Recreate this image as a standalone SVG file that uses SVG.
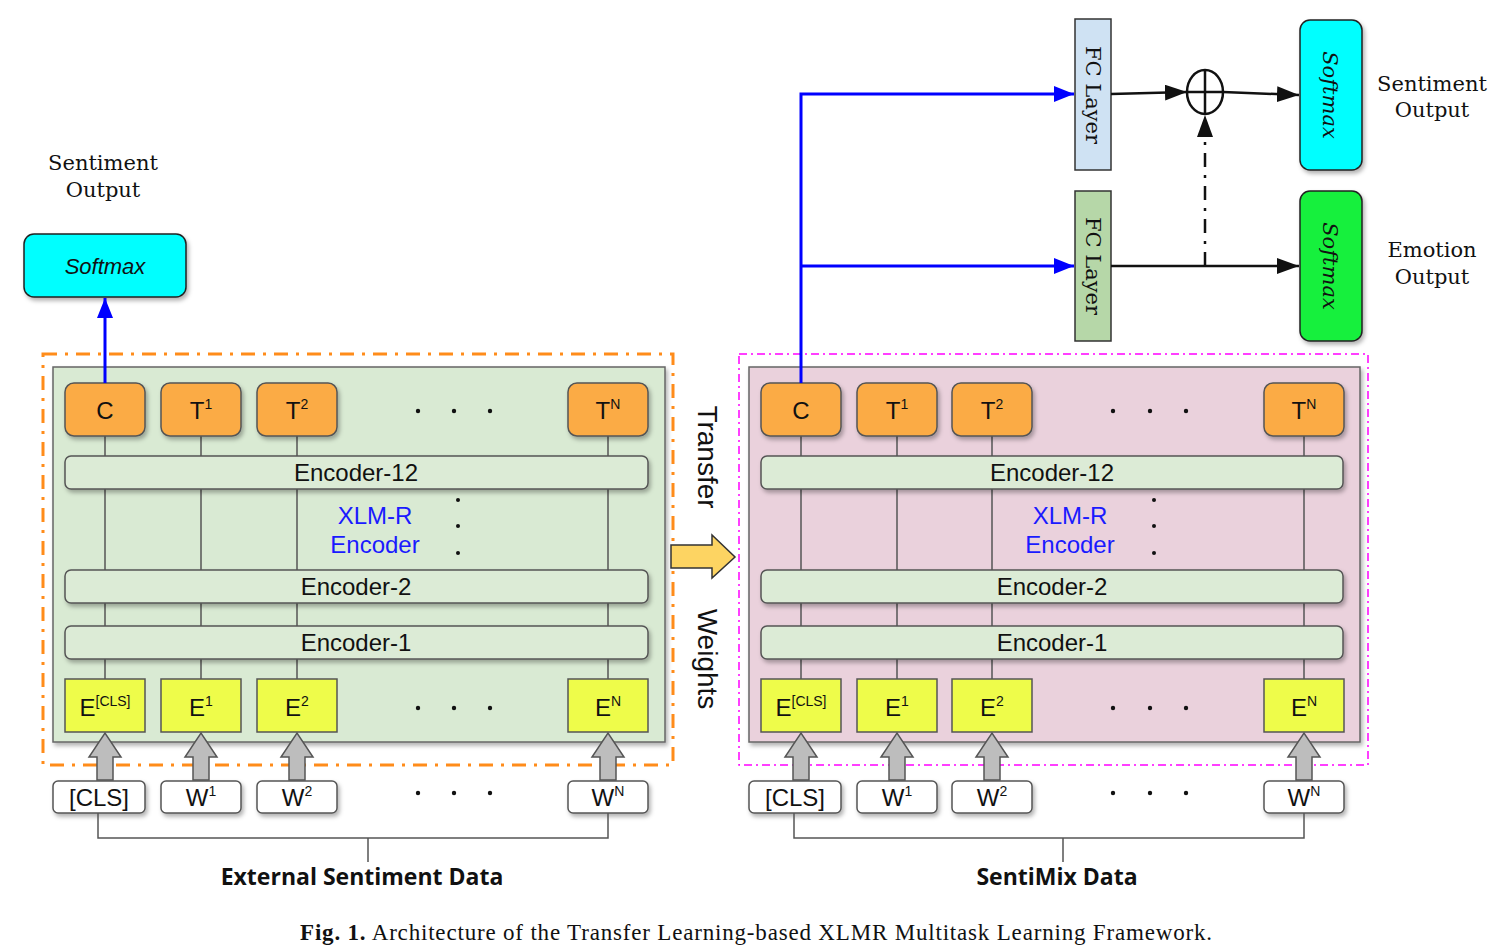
<svg xmlns="http://www.w3.org/2000/svg" xmlns:xlink="http://www.w3.org/1999/xlink" width="1506" height="952" viewBox="0 0 1506 952">
<style>
.panelG{fill:#d9ead3;stroke:#666;stroke-width:1.5}
.panelP{fill:#ead1dc;stroke:#666;stroke-width:1.5}
.tbox{fill:#fbab45;stroke:#555;stroke-width:1.5}
.ebox{fill:#eefc4a;stroke:#555;stroke-width:1.5}
.enc{fill:#dcebd6;stroke:#555;stroke-width:1.5}
.inp{fill:#fff;stroke:#555;stroke-width:1.5}
.vline{stroke:#555;stroke-width:1.5;fill:none}
.lbl{font-family:"Liberation Sans",Arial,sans-serif;font-size:24px;fill:#111;text-anchor:middle}
.sup{font-size:14px}
.xlm{font-family:"Liberation Sans",Arial,sans-serif;font-size:24px;fill:#1a1aff;text-anchor:middle}
.serif{font-family:"DejaVu Serif","Liberation Serif",serif;font-size:21px;fill:#111;text-anchor:middle}
.bold{font-family:"Open Sans","DejaVu Sans",sans-serif;font-weight:bold;font-size:23px;fill:#111;text-anchor:middle}
.dot{fill:#111}
.blue{stroke:#0000ff;stroke-width:3;fill:none}
.blk{stroke:#111;stroke-width:2.5;fill:none}
.garrow{fill:#bdbdbd;stroke:#555;stroke-width:1.5}
</style>
<defs>
<filter id="sh" x="-10%" y="-10%" width="130%" height="140%">
<feDropShadow dx="2" dy="3" stdDeviation="2" flood-color="#000" flood-opacity="0.3"/>
</filter>
<marker id="bhb" markerWidth="20" markerHeight="16" refX="20" refY="8" orient="auto" markerUnits="userSpaceOnUse" viewBox="0 0 20 16">
<path d="M0,0 L20,8 L0,16 z" fill="#0000ff"/>
</marker>
<marker id="kh" markerWidth="22" markerHeight="16" refX="22" refY="8" orient="auto" markerUnits="userSpaceOnUse" viewBox="0 0 22 16">
<path d="M0,0 L22,8 L0,16 z" fill="#111"/>
</marker>
<path id="garr" class="garrow" d="M-8,47 L-8,24 L-16,24 L0,0 L16,24 L8,24 L8,47 z"/>
</defs>

<rect width="1506" height="952" fill="#fff"/>

<!-- LEFT PANEL -->
<g id="left-panel">
<rect x="43" y="354" width="630" height="411" fill="none" stroke="#ff8c1a" stroke-width="3" stroke-dasharray="14 8 3 8"/>
<rect class="panelG" x="53" y="367" width="612" height="375" filter="url(#sh)"/>
</g>
<g id="left-lines">
<path class="vline" d="M105,436V679 M201,436V679 M297,436V679 M608,436V679"/>
</g>
<g id="L-C"><rect class="tbox" x="65" y="383" width="80" height="53" rx="9" filter="url(#sh)"/><text class="lbl" x="105" y="419">C</text></g>
<g id="L-T1"><rect class="tbox" x="161" y="383" width="80" height="53" rx="9" filter="url(#sh)"/><text class="lbl" x="201" y="419">T<tspan class="sup" dy="-10">1</tspan></text></g>
<g id="L-T2"><rect class="tbox" x="257" y="383" width="80" height="53" rx="9" filter="url(#sh)"/><text class="lbl" x="297" y="419">T<tspan class="sup" dy="-10">2</tspan></text></g>
<g id="L-TN"><rect class="tbox" x="568" y="383" width="80" height="53" rx="9" filter="url(#sh)"/><text class="lbl" x="608" y="419">T<tspan class="sup" dy="-10">N</tspan></text></g>
<g id="L-dots"><circle class="dot" cx="418" cy="411" r="2.2"/><circle class="dot" cx="454" cy="411" r="2.2"/><circle class="dot" cx="490" cy="411" r="2.2"/>
<circle class="dot" cx="458" cy="500" r="2"/><circle class="dot" cx="458" cy="526" r="2"/><circle class="dot" cx="458" cy="553" r="2"/>
<circle class="dot" cx="418" cy="708" r="2.2"/><circle class="dot" cx="454" cy="708" r="2.2"/><circle class="dot" cx="490" cy="708" r="2.2"/>
<circle class="dot" cx="418" cy="793" r="2.2"/><circle class="dot" cx="454" cy="793" r="2.2"/><circle class="dot" cx="490" cy="793" r="2.2"/></g>
<g id="L-enc12"><rect class="enc" x="65" y="456" width="583" height="33" rx="6" filter="url(#sh)"/><text class="lbl" x="356" y="481">Encoder-12</text></g>
<g id="L-xlm"><text class="xlm" x="375" y="524">XLM-R</text><text class="xlm" x="375" y="553">Encoder</text></g>
<g id="L-enc2"><rect class="enc" x="65" y="570" width="583" height="33" rx="6" filter="url(#sh)"/><text class="lbl" x="356" y="595">Encoder-2</text></g>
<g id="L-enc1"><rect class="enc" x="65" y="626" width="583" height="33" rx="6" filter="url(#sh)"/><text class="lbl" x="356" y="651">Encoder-1</text></g>
<g id="L-ECLS"><rect class="ebox" x="65" y="679" width="80" height="53"/><text class="lbl" x="105" y="716">E<tspan class="sup" dy="-10">[CLS]</tspan></text></g>
<g id="L-E1"><rect class="ebox" x="161" y="679" width="80" height="53"/><text class="lbl" x="201" y="716">E<tspan class="sup" dy="-10">1</tspan></text></g>
<g id="L-E2"><rect class="ebox" x="257" y="679" width="80" height="53"/><text class="lbl" x="297" y="716">E<tspan class="sup" dy="-10">2</tspan></text></g>
<g id="L-EN"><rect class="ebox" x="568" y="679" width="80" height="53"/><text class="lbl" x="608" y="716">E<tspan class="sup" dy="-10">N</tspan></text></g>
<g id="L-garrows"><use xlink:href="#garr" x="105" y="733"/><use xlink:href="#garr" x="201" y="733"/><use xlink:href="#garr" x="297" y="733"/><use xlink:href="#garr" x="608" y="733"/></g>
<g id="L-CLS"><rect class="inp" x="53" y="781" width="92" height="32" rx="5" filter="url(#sh)"/><text class="lbl" x="99" y="806">[CLS]</text></g>
<g id="L-W1"><rect class="inp" x="161" y="781" width="80" height="32" rx="5" filter="url(#sh)"/><text class="lbl" x="201" y="806">W<tspan class="sup" dy="-10">1</tspan></text></g>
<g id="L-W2"><rect class="inp" x="257" y="781" width="80" height="32" rx="5" filter="url(#sh)"/><text class="lbl" x="297" y="806">W<tspan class="sup" dy="-10">2</tspan></text></g>
<g id="L-WN"><rect class="inp" x="568" y="781" width="80" height="32" rx="5" filter="url(#sh)"/><text class="lbl" x="608" y="806">W<tspan class="sup" dy="-10">N</tspan></text></g>
<g id="L-bracket"><path class="vline" d="M98,813V838H608V813 M368,838V862"/></g>
<text class="bold" x="362" y="885">External Sentiment Data</text>

<g id="L-softmax"><rect x="24" y="234" width="162" height="63" rx="10" fill="#00ffff" stroke="#222" stroke-width="1.5" filter="url(#sh)"/><text x="105" y="274" font-family="Liberation Sans,Arial,sans-serif" font-style="italic" font-size="22" text-anchor="middle" fill="#111">Softmax</text></g>
<g id="L-out"><text class="serif" x="103" y="170">Sentiment</text><text class="serif" x="103" y="197">Output</text></g>

<!-- Transfer weights -->
<g id="transfer">
<text class="lbl" style="font-size:28px" transform="translate(698,457) rotate(90)">Transfer</text>
<text class="lbl" style="font-size:28px" transform="translate(698,659) rotate(90)">Weights</text>
<path d="M671,545 H712 V535 L735,557 L712,578 V568 H671 z" fill="#fdd462" stroke="#333" stroke-width="1.5"/>
</g>

<!-- RIGHT PANEL -->
<g id="right-panel">
<rect x="739" y="354" width="629" height="411" fill="none" stroke="#ff00ff" stroke-width="1.5" stroke-dasharray="8 4 2 4"/>
<rect class="panelP" x="749" y="367" width="611" height="375" filter="url(#sh)"/>
</g>
<g id="right-lines">
<path class="vline" d="M801,436V679 M897,436V679 M992,436V679 M1304,436V679"/>
</g>
<g id="R-C"><rect class="tbox" x="761" y="383" width="80" height="53" rx="9" filter="url(#sh)"/><text class="lbl" x="801" y="419">C</text></g>
<g id="R-T1"><rect class="tbox" x="857" y="383" width="80" height="53" rx="9" filter="url(#sh)"/><text class="lbl" x="897" y="419">T<tspan class="sup" dy="-10">1</tspan></text></g>
<g id="R-T2"><rect class="tbox" x="952" y="383" width="80" height="53" rx="9" filter="url(#sh)"/><text class="lbl" x="992" y="419">T<tspan class="sup" dy="-10">2</tspan></text></g>
<g id="R-TN"><rect class="tbox" x="1264" y="383" width="80" height="53" rx="9" filter="url(#sh)"/><text class="lbl" x="1304" y="419">T<tspan class="sup" dy="-10">N</tspan></text></g>
<g id="R-dots"><circle class="dot" cx="1113" cy="411" r="2.2"/><circle class="dot" cx="1150" cy="411" r="2.2"/><circle class="dot" cx="1186" cy="411" r="2.2"/>
<circle class="dot" cx="1154" cy="500" r="2"/><circle class="dot" cx="1154" cy="526" r="2"/><circle class="dot" cx="1154" cy="553" r="2"/>
<circle class="dot" cx="1113" cy="708" r="2.2"/><circle class="dot" cx="1150" cy="708" r="2.2"/><circle class="dot" cx="1186" cy="708" r="2.2"/>
<circle class="dot" cx="1113" cy="793" r="2.2"/><circle class="dot" cx="1150" cy="793" r="2.2"/><circle class="dot" cx="1186" cy="793" r="2.2"/></g>
<g id="R-enc12"><rect class="enc" x="761" y="456" width="582" height="33" rx="6" filter="url(#sh)"/><text class="lbl" x="1052" y="481">Encoder-12</text></g>
<g id="R-xlm"><text class="xlm" x="1070" y="524">XLM-R</text><text class="xlm" x="1070" y="553">Encoder</text></g>
<g id="R-enc2"><rect class="enc" x="761" y="570" width="582" height="33" rx="6" filter="url(#sh)"/><text class="lbl" x="1052" y="595">Encoder-2</text></g>
<g id="R-enc1"><rect class="enc" x="761" y="626" width="582" height="33" rx="6" filter="url(#sh)"/><text class="lbl" x="1052" y="651">Encoder-1</text></g>
<g id="R-ECLS"><rect class="ebox" x="761" y="679" width="80" height="53"/><text class="lbl" x="801" y="716">E<tspan class="sup" dy="-10">[CLS]</tspan></text></g>
<g id="R-E1"><rect class="ebox" x="857" y="679" width="80" height="53"/><text class="lbl" x="897" y="716">E<tspan class="sup" dy="-10">1</tspan></text></g>
<g id="R-E2"><rect class="ebox" x="952" y="679" width="80" height="53"/><text class="lbl" x="992" y="716">E<tspan class="sup" dy="-10">2</tspan></text></g>
<g id="R-EN"><rect class="ebox" x="1264" y="679" width="80" height="53"/><text class="lbl" x="1304" y="716">E<tspan class="sup" dy="-10">N</tspan></text></g>
<g id="R-garrows"><use xlink:href="#garr" x="801" y="733"/><use xlink:href="#garr" x="897" y="733"/><use xlink:href="#garr" x="992" y="733"/><use xlink:href="#garr" x="1304" y="733"/></g>
<g id="R-CLS"><rect class="inp" x="749" y="781" width="92" height="32" rx="5" filter="url(#sh)"/><text class="lbl" x="795" y="806">[CLS]</text></g>
<g id="R-W1"><rect class="inp" x="857" y="781" width="80" height="32" rx="5" filter="url(#sh)"/><text class="lbl" x="897" y="806">W<tspan class="sup" dy="-10">1</tspan></text></g>
<g id="R-W2"><rect class="inp" x="952" y="781" width="80" height="32" rx="5" filter="url(#sh)"/><text class="lbl" x="992" y="806">W<tspan class="sup" dy="-10">2</tspan></text></g>
<g id="R-WN"><rect class="inp" x="1264" y="781" width="80" height="32" rx="5" filter="url(#sh)"/><text class="lbl" x="1304" y="806">W<tspan class="sup" dy="-10">N</tspan></text></g>
<g id="R-bracket"><path class="vline" d="M794,813V838H1304V813 M1063,838V862"/></g>
<text class="bold" x="1057" y="885">SentiMix Data</text>

<!-- Heads -->
<g id="fc1"><rect x="1075" y="19" width="36" height="151" fill="#cfe2f3" stroke="#333" stroke-width="1.5"/><text class="serif" transform="translate(1086,95) rotate(90)">FC Layer</text></g>
<g id="fc2"><rect x="1075" y="191" width="36" height="150" fill="#b6d7a8" stroke="#333" stroke-width="1.5"/><text class="serif" transform="translate(1086,266) rotate(90)">FC Layer</text></g>
<g id="plus"><ellipse cx="1205" cy="92" rx="18" ry="22" fill="#fff" stroke="#111" stroke-width="2.5"/><path class="blk" d="M1187,92H1223 M1205,70V114"/></g>
<g id="sm1"><rect x="1300" y="20" width="62" height="150" rx="10" fill="#00ffff" stroke="#222" stroke-width="1.5" filter="url(#sh)"/><text class="serif" font-style="italic" transform="translate(1323,95) rotate(90)">Softmax</text></g>
<g id="sm2"><rect x="1300" y="191" width="62" height="150" rx="10" fill="#14f03c" stroke="#222" stroke-width="1.5" filter="url(#sh)"/><text class="serif" font-style="italic" transform="translate(1323,266) rotate(90)">Softmax</text></g>
<g id="R-out1"><text class="serif" x="1432" y="91">Sentiment</text><text class="serif" x="1432" y="117">Output</text></g>
<g id="R-out2"><text class="serif" x="1432" y="257">Emotion</text><text class="serif" x="1432" y="284">Output</text></g>

<!-- CONNECTORS -->
<g id="connectors">
<path class="blue" d="M105,383V298" marker-end="url(#bhb)"/>
<path class="blue" d="M801,383V94H1074" marker-end="url(#bhb)"/>
<path class="blue" d="M801,266H1074" marker-end="url(#bhb)"/>
<path class="blk" d="M1111,94L1187,92" marker-end="url(#kh)"/>
<path class="blk" d="M1223,92L1299,95" marker-end="url(#kh)"/>
<path class="blk" d="M1111,266H1299" marker-end="url(#kh)"/>
<path class="blk" d="M1205,266V115" stroke-dasharray="14 8 3 8" marker-end="url(#kh)"/>
</g>

<text x="300" y="940" font-family="Liberation Serif,Times New Roman,serif" font-size="23" fill="#111" textLength="912" lengthAdjust="spacing"><tspan font-weight="bold">Fig. 1.</tspan>  Architecture of the Transfer Learning-based XLMR Multitask Learning Framework.</text>
</svg>
